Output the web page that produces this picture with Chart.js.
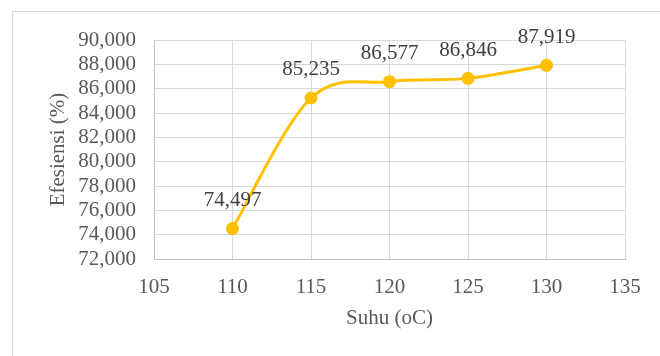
<!DOCTYPE html>
<html>
<head>
<meta charset="utf-8">
<script src="https://cdn.jsdelivr.net/npm/chart.js@4"></script>
<style>
  html, body { margin: 0; padding: 0; background: #ffffff; }
  #wrap { position: relative; width: 660px; height: 356px; }
</style>
</head>
<body>
<div id="wrap"><canvas id="c" width="660" height="356"></canvas></div>
<script>
// Suhu (oC) vs Efesiensi (%)
const suhu = [110, 115, 120, 125, 130];
const efesiensi = [74.497, 85.235, 86.577, 86.846, 87.919];
const xTicks = [105, 110, 115, 120, 125, 130, 135];
const yTicks = [72, 74, 76, 78, 80, 82, 84, 86, 88, 90];

const FONT = "'Liberation Serif', 'Times New Roman', serif";
const fmt = v => Number(v).toFixed(3).replace('.', ',');

// light frame around the chart
const framePlugin = {
  id: 'frame',
  beforeDraw(chart) {
    const ctx = chart.ctx;
    ctx.save();
    ctx.strokeStyle = '#d9d9d9';
    ctx.lineWidth = 1;
    ctx.beginPath();
    ctx.moveTo(12.5, chart.height);
    ctx.lineTo(12.5, 11.5);
    ctx.lineTo(chart.width, 11.5);
    ctx.stroke();
    ctx.restore();
  }
};

// Catmull-Rom style smoothing (control points at 1/6 of neighbour span)
const smoothCurve = {
  id: 'smoothCurve',
  beforeDatasetDraw(chart, args) {
    const meta = args.meta;
    const pts = meta.data;
    const n = pts.length;
    for (let i = 0; i < n; i++) {
      const p = pts[i];
      const prev = pts[Math.max(i - 1, 0)];
      const next = pts[Math.min(i + 1, n - 1)];
      const dx = (next.x - prev.x) / 6;
      const dy = (next.y - prev.y) / 6;
      p.cp1x = p.x - dx; p.cp1y = p.y - dy;
      p.cp2x = p.x + dx; p.cp2y = p.y + dy;
    }
    meta.dataset._pointsUpdated = true;
  }
};

// value labels above each point
const valueLabels = {
  id: 'valueLabels',
  afterDatasetsDraw(chart) {
    const ctx = chart.ctx;
    const meta = chart.getDatasetMeta(0);
    ctx.save();
    ctx.font = '21px ' + FONT;
    ctx.fillStyle = '#404040';
    ctx.textAlign = 'center';
    ctx.textBaseline = 'middle';
    meta.data.forEach((pt, i) => {
      ctx.fillText(fmt(efesiensi[i]), pt.x, pt.y - 28);
    });
    ctx.restore();
  }
};

new Chart(document.getElementById('c'), {
  type: 'line',
  data: {
    datasets: [{
      data: suhu.map((x, i) => ({ x: x, y: efesiensi[i] })),
      borderColor: '#FFC000',
      backgroundColor: '#FFC000',
      borderWidth: 3,
      tension: 0.4,
      pointRadius: 6.5,
      pointBorderWidth: 0,
      pointBackgroundColor: '#FFC000',
      fill: false
    }]
  },
  options: {
    responsive: false,
    animation: false,
    layout: { padding: { top: 40, right: 35, left: 0, bottom: 0 } },
    plugins: {
      legend: { display: false },
      tooltip: { enabled: false }
    },
    scales: {
      x: {
        type: 'linear',
        min: 105,
        max: 135,
        afterBuildTicks(scale) { scale.ticks = xTicks.map(v => ({ value: v })); },
        afterFit(scale) { scale.height = 97; },
        grid: { color: '#d9d9d9', drawTicks: false },
        border: { color: '#bfbfbf' },
        ticks: {
          autoSkip: false,
          maxRotation: 0,
          padding: 16,
          color: '#595959',
          font: { family: FONT, size: 21 },
          callback: v => String(v)
        },
        title: {
          display: true,
          text: 'Suhu (oC)',
          color: '#595959',
          font: { family: FONT, size: 21 },
          padding: { top: 0, bottom: 25 }
        }
      },
      y: {
        min: 72,
        max: 90,
        afterBuildTicks(scale) { scale.ticks = yTicks.map(v => ({ value: v })); },
        afterFit(scale) { scale.width = 154; },
        grid: { color: '#d9d9d9', drawTicks: false },
        border: { color: '#bfbfbf' },
        ticks: {
          autoSkip: false,
          padding: 18,
          color: '#595959',
          font: { family: FONT, size: 21 },
          callback: v => fmt(v)
        },
        title: {
          display: true,
          text: 'Efesiensi (%)',
          color: '#595959',
          font: { family: FONT, size: 21 },
          padding: { top: 46, bottom: 0 }
        }
      }
    }
  },
  plugins: [framePlugin, smoothCurve, valueLabels]
});
</script>
</body>
</html>
